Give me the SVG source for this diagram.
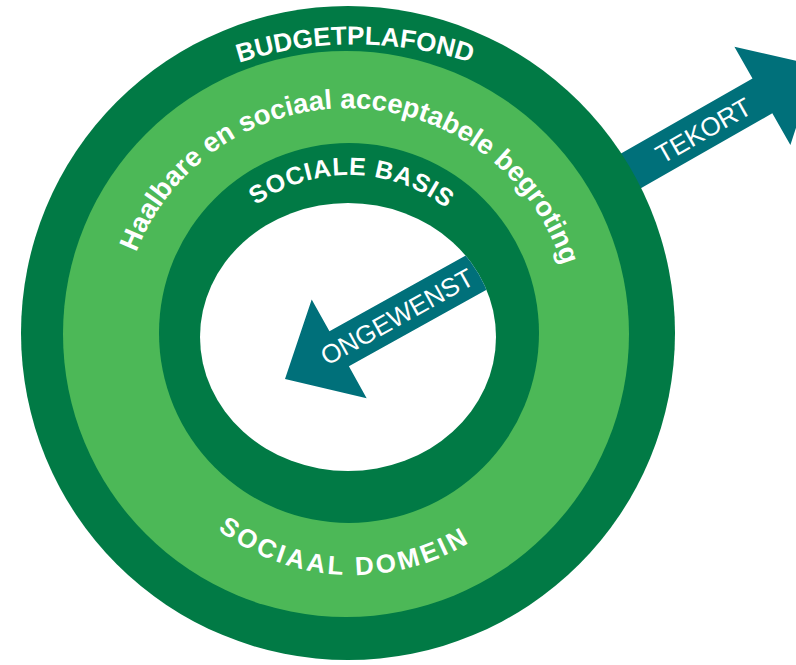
<svg xmlns="http://www.w3.org/2000/svg" width="796" height="665" viewBox="0 0 796 665">
<style>
.dark{fill:#017A45}
.light{fill:#4CB857}
.teal{fill:#00707A}
.lbl{fill:#ffffff;font-family:"Liberation Sans",Arial,sans-serif}
.b{font-weight:bold}
</style>
<defs>
<clipPath id="whiteClip"><ellipse cx="348" cy="337" rx="148" ry="134"/></clipPath>
<path id="arcBudget" d="M115,131 A376,376 0 0 1 595,131"/>
<path id="arcHaal" d="M124.4,373.3 A226,226 0 1 1 569.6,373.3"/>
<path id="arcBasis" d="M191,333 A158,158 0 0 1 507,333"/>
<path id="arcDomein" d="M128,350 A225,225 0 0 0 578,350"/>
</defs>
<rect width="796" height="665" fill="#ffffff"/>
<g id="connectors">
<g id="arrow-tekort" transform="translate(571.3,204.9) rotate(-29.7)">
<path class="teal" d="M0,-20 H220 V-56.5 L282,0 L220,56.5 V20 H0 Z"/>
</g>
</g>
<g id="ring-budgetplafond"><circle class="dark" cx="348" cy="333" r="327"/></g>
<g id="ring-sociaal-domein"><circle class="light" cx="346" cy="334" r="283"/></g>
<g id="ring-sociale-basis"><circle class="dark" cx="349" cy="333" r="190"/></g>
<g id="core"><ellipse cx="348" cy="337" rx="148" ry="134" fill="#ffffff"/></g>
<g id="arrow-ongewenst" clip-path="url(#whiteClip)">
<g transform="translate(285,379) rotate(150.9)">
<path class="teal" d="M0,0 L-62,-56.5 L-62,-20 L-280,-20 L-280,20 L-62,20 L-62,56.5 Z"/>
</g>
</g>
<g id="labels">
<text class="lbl b" font-size="26"><textPath href="#arcBudget" startOffset="50%" text-anchor="middle">BUDGETPLAFOND</textPath></text>
<text class="lbl b" font-size="27.5"><textPath href="#arcHaal" startOffset="401" text-anchor="middle">Haalbare en sociaal acceptabele begroting</textPath></text>
<text class="lbl b" font-size="25" letter-spacing="0.8"><textPath href="#arcBasis" startOffset="251" text-anchor="middle">SOCIALE BASIS</textPath></text>
<text class="lbl b" font-size="26" letter-spacing="3"><textPath href="#arcDomein" startOffset="343" text-anchor="middle">SOCIAAL DOMEIN</textPath></text>
<text class="lbl" font-size="26" text-anchor="middle" transform="translate(703.5,130.5) rotate(-29.7)" y="9">TEKORT</text>
<text class="lbl" font-size="26" text-anchor="middle" transform="translate(397,316.8) rotate(-29.1)" y="9">ONGEWENST</text>
</g>
</svg>
